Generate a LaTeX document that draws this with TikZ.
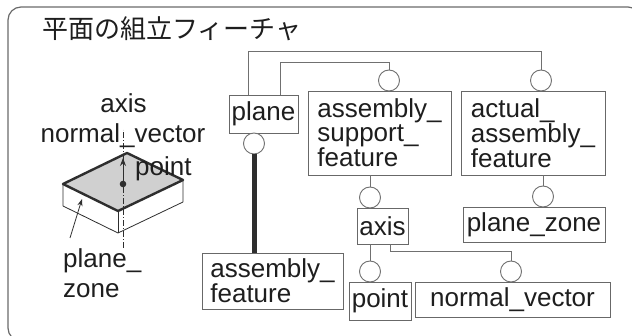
\documentclass[tikz,border=0pt]{standalone}
\usepackage{fontspec}
\setmainfont{Liberation Sans}
\newfontfamily\jpfont{Noto Sans CJK JP}
\usetikzlibrary{arrows.meta}

\definecolor{ink}{HTML}{1E1E1E}
\definecolor{linegray}{HTML}{707070}
\definecolor{boxgray}{HTML}{686868}
\definecolor{framegray}{HTML}{6A6A6A}
\definecolor{facegray}{HTML}{D0D0D0}
\definecolor{edge}{HTML}{2E2E2E}

\begin{document}
\begin{tikzpicture}[x=1pt,y=-1pt,
  txt/.style={font=\fontsize{26}{23.8}\selectfont, text=ink},
  line/.style={draw=linegray, line width=0.9pt},
  ent/.style={txt, draw=boxgray, line width=0.9pt, align=left, inner sep=0pt},
  port/.style={circle, draw=linegray, line width=0.9pt, minimum size=21pt, inner sep=0pt, fill=white},
  lbl/.style={txt, inner sep=0pt},
  thin edge/.style={draw=edge, line width=0.8pt, line join=round},
]
\fill[white] (0,0) rectangle (632,336);
\useasboundingbox (0,0) rectangle (632,336);

% outer frame
\draw[draw=framegray, line width=1.2pt, rounded corners=13pt] (8,7) rectangle (641,341);

% title
\node[anchor=base west, inner sep=0pt, font=\jpfont\fontsize{26}{26}\selectfont, text=ink] (title) at (42,39) {平面の組立フィーチャ};

% ---- sketch of a planar face ----
\coordinate (L) at (63,184);
\coordinate (T) at (127,153);
\coordinate (R) at (183,180);
\coordinate (B) at (118,211);
\coordinate (L2) at (63,206);
\coordinate (B2) at (118,233);
\coordinate (R2) at (183,202);
\draw[thin edge] (L) -- (L2) -- (B2) -- (R2) -- (R);
\draw[thin edge] (B) -- (B2);
\filldraw[fill=facegray, draw=edge, line width=2.4pt, line join=round] (L) -- (T) -- (R) -- (B) -- cycle;
\coordinate (axtop) at (123,130);
\coordinate (axbot) at (123,248);
\draw[draw=edge, line width=0.6pt, dash pattern=on 6pt off 2pt on 1pt off 2pt] (axbot) -- (axtop);
\coordinate (dot) at (123,184);
\coordinate (nvtip) at (123,158);
\draw[draw=edge, line width=0.9pt, -{Stealth[length=8pt,width=6pt]}] (dot) -- (nvtip);
\fill[edge] (dot) circle[radius=3.3pt];
\coordinate (pzfrom) at (70,238);
\coordinate (pzto) at (82,199);
\draw[draw=edge, line width=0.8pt, -{Stealth[length=7pt,width=5pt]}] (pzfrom) -- (pzto);

\node[lbl, anchor=base] (taxis) at (123.5,113) {axis};
\node[lbl, anchor=base] (tnv) at (123,143) {normal\_vector};
\node[lbl, anchor=base west] (tpoint) at (135,176) {point};
\node[lbl, anchor=base west] (tpz1) at (63,268) {plane\_};
\node[lbl, anchor=base west] (tpz2) at (63,298) {zone};

% ---- entities ----
\node[ent, minimum width=69pt, minimum height=38pt] (plane) at (263.5,114) {plane};
\node[ent, minimum width=143pt, minimum height=84pt] (asf) at (379.5,133) {assembly\_\\support\_\\feature};
\node[ent, minimum width=144pt, minimum height=84pt] (aaf) at (533,133) {actual\_\\assembly\_\\feature};
\node[ent, minimum width=141pt, minimum height=56pt] (af) at (272.5,281) {assembly\_\\feature};
\node[ent, minimum width=51pt, minimum height=36pt] (axis) at (382.5,226) {axis};
\node[ent, minimum width=142pt, minimum height=35pt] (pz) at (534,224.5) {plane\_zone};
\node[ent, minimum width=62pt, minimum height=38pt] (pt) at (380,301) {point};
\node[ent, minimum width=195pt, minimum height=35pt] (nv) at (512.5,299.5) {normal\_vector};

% ---- connectors ----
\coordinate (busA) at (0,51);
\coordinate (busB) at (0,62);
\coordinate (busC) at (0,251);

\node[port] (cpl) at (254,143.5) {};
\node[port] (casf) at (389,80.5) {};
\node[port] (caaf) at (541,80.5) {};
\node[port] (cax) at (370,197.5) {};
\node[port] (cpz) at (543,196.5) {};
\node[port] (cpt) at (370,271.5) {};
\node[port] (cnv) at (511,271.5) {};

\draw[line] ([xshift=20pt]plane.north west) |- (busA -| caaf) -- (caaf.north);
\draw[line] ([xshift=52pt]plane.north west) |- (busB -| casf) -- (casf.north);
\draw[draw=edge, line width=5pt] (cpl.south) -- (cpl.south |- af.north);
\draw[line] (asf.south -| cax) -- (cax.north);
\draw[line] (aaf.south -| cpz) -- (cpz.north);
\draw[line] (axis.south -| cpt) -- (cpt.north);
\draw[line] ([xshift=-18pt]axis.south east) |- (busC -| cnv) -- (cnv.north);
\end{tikzpicture}
\end{document}
